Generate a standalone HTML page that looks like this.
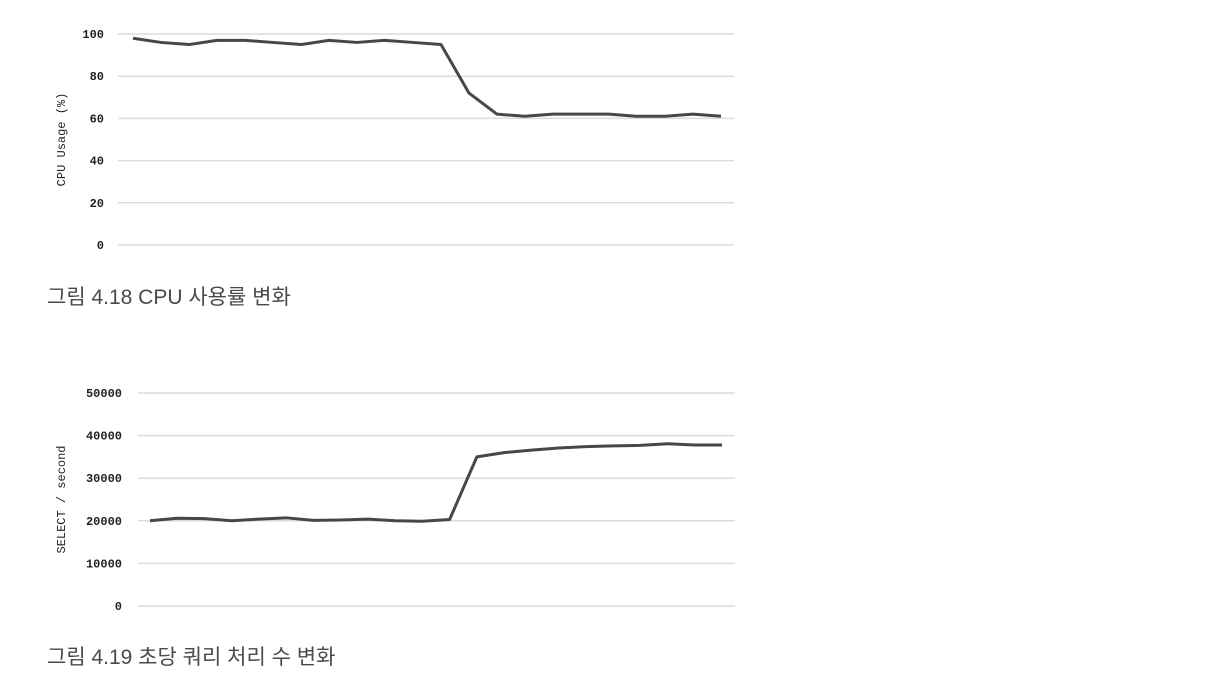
<!DOCTYPE html>
<html><head><meta charset="utf-8"><style>
html,body{margin:0;padding:0;background:#fff;width:1214px;height:688px;overflow:hidden}
svg{display:block}
.tick{font-family:"Liberation Mono","DejaVu Sans Mono",monospace;font-size:12px;font-weight:bold;fill:#222;text-anchor:end}
.axt{font-family:"Liberation Mono","DejaVu Sans Mono",monospace;font-size:12px;fill:#222;text-anchor:middle}
.cap{font-family:"Liberation Sans","Noto Sans CJK KR",sans-serif;font-size:21px;fill:#4a4a4a}
</style></head><body>
<svg id="svg" width="1214" height="688">
<text class="cap" x="47" y="304">그림 4.18 CPU 사용률 변화</text>
<text class="cap" x="47" y="664">그림 4.19 초당 쿼리 처리 수 변화</text>
</svg>
<script>
const cpuValues=[98,96,95,97,97,96,95,97,96,97,96,95,72,62,61,62,62,62,61,61,62,61];
const cpuTicks=["0","20","40","60","80","100"];
const selValues=[20000,20600,20500,20000,20400,20700,20100,20200,20400,20000,19900,20300,35000,36000,36600,37100,37400,37600,37700,38100,37800,37800];
const selTicks=["0","10000","20000","30000","40000","50000"];
const NS="http://www.w3.org/2000/svg";
const svg=document.getElementById('svg');
function mk(t,a){const e=document.createElementNS(NS,t);for(const k in a)e.setAttribute(k,a[k]);svg.appendChild(e);return e;}
function chart(o){
  const yS=v=>o.y0-(v-o.min)/(o.max-o.min)*(o.y0-o.y1);
  const xS=i=>o.px0+i*(o.px1-o.px0)/(o.values.length-1);
  o.ticks.forEach(t=>{
    const y=yS(+t);
    const g=mk('line',{x1:o.gx0,x2:o.gx1,y1:y,y2:y,stroke:'#dcdcdc','stroke-width':1.5});
    
    
    const tx=mk('text',{x:o.lx,y:y+4,class:'tick'});tx.textContent=t;
    
    
  });
  const ax=mk('text',{x:0,y:0,class:'axt',transform:`translate(${o.tx},${(o.y0+o.y1)/2}) rotate(-90)`});
  ax.textContent=o.title;
  
  
  const p=mk('polyline',{points:o.values.map((v,i)=>xS(i)+','+yS(v)).join(' '),fill:'none',stroke:'#474747','stroke-width':3,'stroke-linejoin':'round'});
  
  
}
chart({values:cpuValues,ticks:cpuTicks,min:0,max:100,y0:245,y1:34,gx0:118,gx1:734,px0:133,px1:721,lx:104,tx:65,title:'CPU Usage (%)',name:'cpu-usage-line'});
chart({values:selValues,ticks:selTicks,min:0,max:50000,y0:606,y1:393,gx0:138,gx1:735,px0:150,px1:722,lx:122,tx:65,title:'SELECT / second',name:'select-per-second-line'});
</script>
</body></html>
